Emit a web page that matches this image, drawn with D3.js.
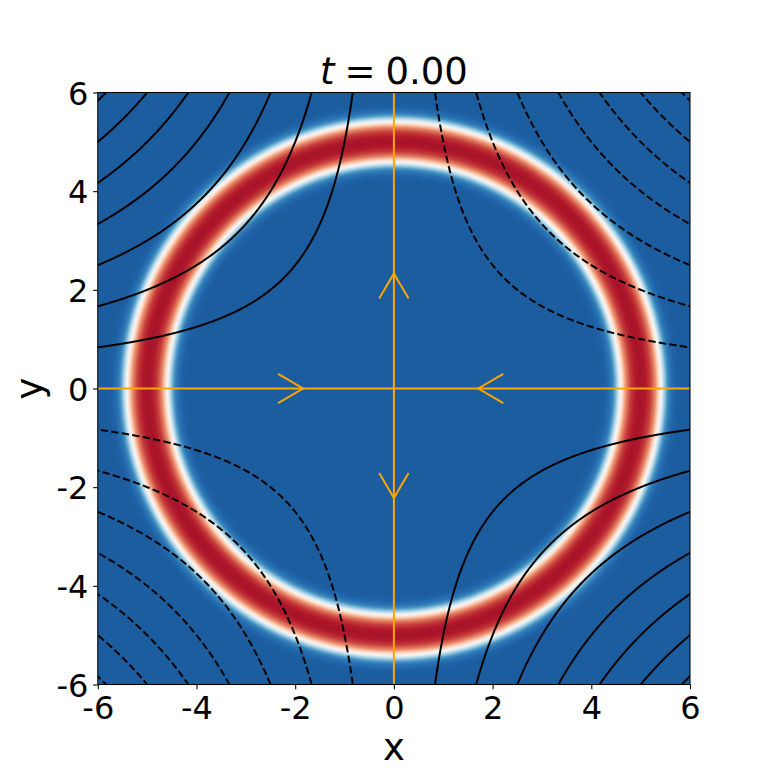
<!DOCTYPE html>
<html><head><meta charset="utf-8">
<script src="https://cdn.jsdelivr.net/npm/d3@7"></script>
<style>html,body{margin:0;padding:0;background:#fff}svg{display:block}</style>
</head><body>
<script>
// ---- data ----
const xDomain = [-6, 6];
const yDomain = [-6, 6];
const tickValues = [-6, -4, -2, 0, 2, 4, 6];
const tickLabels = ["-6", "-4", "-2", "0", "2", "4", "6"];
const titleTime = "0.00";
const ringRadius = 5;
// radial intensity of the ring (distance from ring centre -> value)
const profileDist = [0, 0.1, 0.2, 0.3, 0.4, 0.45, 0.5, 0.55, 0.6, 0.7, 0.8];
const profileVal  = [1.0, 0.98, 0.92, 0.78, 0.53, 0.38, 0.24, 0.13, 0.06, 0.01, 0];
const colorLimits = [-0.1, 1.1];
// stream-function contour levels (psi = -x*y); negative ones dashed
const contourLevels = [-35, -30, -25, -20, -15, -10, -5, 5, 10, 15, 20, 25, 30, 35];
// separatrix streamlines
const streamLines = [
  {x1: -6, y1: 0, x2: 6, y2: 0},
  {x1: 0, y1: -6, x2: 0, y2: 6}
];
// arrow tips and directions
const arrowX   = [-1.84, 1.71, 0, 0];
const arrowY   = [0, 0, 2.33, -2.22];
const arrowDX  = [1, -1, 0, 0];
const arrowDY  = [0, 0, 1, -1];

// ---- layout ----
const W = 768, H = 768;
const L = 97.8, R = 690, T = 92.5, B = 684.5;
const pw = R - L, ph = B - T;
const xs = d3.scaleLinear().domain(xDomain).range([L, R]);
const ys = d3.scaleLinear().domain(yDomain).range([B, T]);

const cmapStops = ["#053061","#2166ac","#4393c3","#92c5de","#d1e5f0","#f7f7f7","#fddbc7","#f4a582","#d6604d","#b2182b","#67001f"];
const cDomain = cmapStops.map((_, i) => colorLimits[0] + i * (colorLimits[1] - colorLimits[0]) / (cmapStops.length - 1));
const cmap = d3.scaleLinear().domain(cDomain).range(cmapStops).interpolate(d3.interpolateRgb).clamp(true);
const profile = d3.scaleLinear().domain(profileDist).range(profileVal).clamp(true);

const svg = d3.select("body").append("svg").attr("width", W).attr("height", H)
  .style("font-family", "'DejaVu Sans', sans-serif");

// ---- heatmap ----
const cw = Math.round(pw), ch = Math.round(ph);
const canvas = document.createElement("canvas");
canvas.width = cw; canvas.height = ch;
const ctx = canvas.getContext("2d");
const img = ctx.createImageData(cw, ch);
const lut = d3.range(1001).map(i => d3.rgb(cmap(i / 1000)));
for (let j = 0; j < ch; j++) {
  const yv = ys.invert(T + (j + 0.5) * ph / ch);
  for (let i = 0; i < cw; i++) {
    const xv = xs.invert(L + (i + 0.5) * pw / cw);
    const r = Math.sqrt(xv * xv + yv * yv);
    const v = profile(Math.abs(r - ringRadius));
    const c = lut[Math.max(0, Math.min(1000, Math.round(v * 1000)))];
    const k = 4 * (j * cw + i);
    img.data[k] = c.r; img.data[k + 1] = c.g; img.data[k + 2] = c.b; img.data[k + 3] = 255;
  }
}
ctx.putImageData(img, 0, 0);
svg.append("image").attr("x", L).attr("y", T).attr("width", pw).attr("height", ph)
  .attr("preserveAspectRatio", "none").attr("href", canvas.toDataURL());

svg.append("clipPath").attr("id", "clip").append("rect")
  .attr("x", L).attr("y", T).attr("width", pw).attr("height", ph);
const plot = svg.append("g").attr("clip-path", "url(#clip)");

// ---- contours of psi = -x*y ----
const line = d3.line().x(d => xs(d[0])).y(d => ys(d[1]));
contourLevels.forEach(c => {
  const k = -c; // x*y = k
  [-1, 1].forEach(s => {
    const x0 = Math.abs(k) / 6.2;
    const pts = d3.range(0, 401).map(i => {
      const xv = s * (x0 + (6.2 - x0) * i / 400);
      return [xv, k / xv];
    });
    plot.append("path").attr("d", line(pts)).attr("fill", "none")
      .attr("stroke", "#000").attr("stroke-width", 2)
      .attr("stroke-dasharray", c < 0 ? "7.4,3.2" : null);
  });
});

// ---- streamlines ----
streamLines.forEach(s => {
  plot.append("line").attr("x1", xs(s.x1)).attr("y1", ys(s.y1))
    .attr("x2", xs(s.x2)).attr("y2", ys(s.y2))
    .attr("stroke", "orange").attr("stroke-width", 2);
});
arrowX.forEach((ax, i) => {
  const tx = xs(ax), ty = ys(arrowY[i]);
  const dx = arrowDX[i], dy = -arrowDY[i];
  const hl = 25, hw = 14.7;
  const px = -dy, py = dx;
  const pts = [[tx - hl * dx + hw * px, ty - hl * dy + hw * py], [tx, ty], [tx - hl * dx - hw * px, ty - hl * dy - hw * py]];
  plot.append("path").attr("d", d3.line()(pts)).attr("fill", "none")
    .attr("stroke", "orange").attr("stroke-width", 2);
});

// ---- frame & axes ----
svg.append("rect").attr("x", L).attr("y", T).attr("width", pw).attr("height", ph)
  .attr("fill", "none").attr("stroke", "#000").attr("stroke-width", 1.07);

const xAxis = d3.axisBottom(xs).tickValues(tickValues).tickFormat((d, i) => tickLabels[i])
  .tickSize(4.67).tickPadding(4.67);
const yAxis = d3.axisLeft(ys).tickValues(tickValues).tickFormat((d, i) => tickLabels[i])
  .tickSize(4.67).tickPadding(4.67);
const gx = svg.append("g").attr("transform", `translate(0,${B})`).call(xAxis);
const gy = svg.append("g").attr("transform", `translate(${L},0)`).call(yAxis);
[gx, gy].forEach(g => {
  g.select(".domain").remove();
  g.selectAll(".tick line").attr("stroke", "#000").attr("stroke-width", 1.07);
  g.selectAll(".tick text").attr("fill", "#000").style("font-family", "'DejaVu Sans', sans-serif")
    .style("font-size", "32px");
});
gx.selectAll(".tick text").attr("dy", null).attr("y", 34.5);
gy.selectAll(".tick text").attr("dy", null).attr("y", 11.6);

// ---- labels ----
svg.append("text").attr("x", (L + R) / 2).attr("y", 760).attr("text-anchor", "middle")
  .style("font-size", "37px").text("x");
svg.append("text").attr("transform", `translate(42,${(T + B) / 2}) rotate(-90)`)
  .attr("text-anchor", "middle").style("font-size", "37px").text("y");
const title = svg.append("text").attr("x", (L + R) / 2).attr("y", 84).attr("text-anchor", "middle")
  .style("font-size", "37px");
title.append("tspan").style("font-style", "italic").text("t");
title.append("tspan").attr("dx", 10).text("=");
title.append("tspan").attr("dx", 10).text(titleTime);
</script>
</body></html>
